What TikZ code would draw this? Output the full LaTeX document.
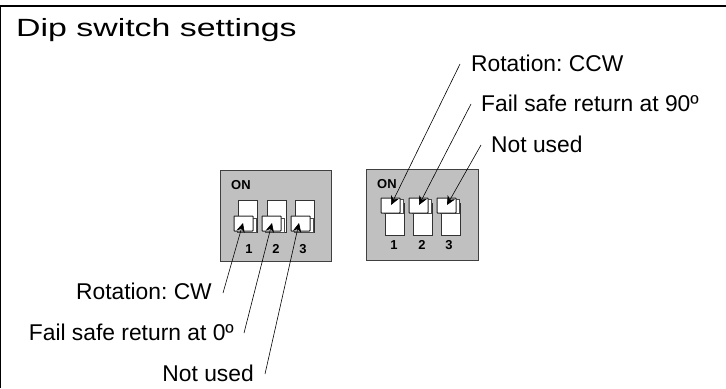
\documentclass[tikz,border=0pt]{standalone}
\usepackage{fontspec}
\setmainfont{Liberation Sans}
\newfontfamily\headfont[FakeStretch=1.36]{Liberation Sans}
\usetikzlibrary{positioning}
\usetikzlibrary{arrows.meta}
\definecolor{panelgray}{RGB}{192,192,192}
\tikzset{
    panel/.style={draw=black!75, line width=0.9pt, fill=panelgray},
    slot/.style={draw=black!80, line width=0.8pt, fill=white},
    lever/.style={draw=black!85, line width=1pt, fill=white, rounded corners=0.6pt},
    leveredge/.style={draw=black!70, line width=1pt, fill=white},
    leader/.style={line width=0.6pt, -{Stealth[length=9bp,width=8.5bp]}},
    callout/.style={font=\fontsize{22.9}{25}\selectfont\frenchspacing, inner sep=0pt},
    onlabel/.style={font=\fontsize{13}{15}\selectfont\bfseries, inner sep=0pt},
    numlabel/.style={font=\fontsize{13}{15}\selectfont\bfseries, inner sep=0pt}
}
\begin{document}
\begin{tikzpicture}[x=1bp,y=-1bp]
        \useasboundingbox (0,0) rectangle (726,388);
        
        % Frame
        \draw [line width=1.5pt] (0.7,388) -- (0.7,6) -- (726,6);
        \node [anchor=base west, inner sep=0pt, font=\fontsize{25}{28}\headfont] (title) at (16,36) {Dip switch settings};
        
        % Left panel
        \draw [panel] (220,170.5) rectangle (331,261.5);
        \node [onlabel, anchor=base west] (onleft) at (231,189) {ON};
        \foreach \x/\l/\m/\n in {238/234/249/1,267/262/276/2,295/291/303/3} {
            \draw [slot] (\x,200) rectangle ++(19,32);
            \draw [leveredge] (\l+3,218) rectangle ++(19,14);
            \draw [lever] (\l,216) rectangle ++(19,15);
            \node [numlabel] (numleft\n) at (\m,249) {\n};
        }
        
        % Right panel
        \draw [panel] (366,169.5) rectangle (478,260.5);
        \node [onlabel, anchor=base west] (onright) at (377,188) {ON};
        \foreach \x/\l/\m/\n in {385/381/394/1,413/409/422/2,441/437/449/3} {
            \draw [slot] (\x,203) rectangle ++(19,32);
            \draw [leveredge] (\l+3,199) rectangle ++(19,14);
            \draw [lever] (\l,198) rectangle ++(19,15);
            \node [numlabel] (numright\n) at (\m,245) {\n};
        }
        
        % Left callouts
        \node [callout, anchor=base east] (cw) at (212,299) {Rotation: CW};
        \node [callout, anchor=base east] (zero) at (234,340) {Fail safe return at 0º};
        \node [callout, anchor=base east] (unusedleft) at (254,381) {Not used};
        \coordinate (cwend) at (223,293);
        \coordinate (zeroend) at (244,333);
        \coordinate (unusedleftend) at (265,374);
        \coordinate (cwtip) at (243,223);
        \coordinate (zerotip) at (272,223);
        \coordinate (unusedlefttip) at (299,223);
        \draw [leader] (cwend) -- (cwtip);
        \draw [leader] (zeroend) -- (zerotip);
        \draw [leader] (unusedleftend) -- (unusedlefttip);
        
        % Right callouts
        \node [callout, anchor=base west] (ccw) at (471,71) {Rotation: CCW};
        \node [callout, anchor=base west] (ninety) at (481,111) {Fail safe return at 90º};
        \node [callout, anchor=base west] (unusedright) at (491,152) {Not used};
        \coordinate (ccwend) at (460,64);
        \coordinate (ninetyend) at (471,104);
        \coordinate (unusedrightend) at (481,145);
        \coordinate (ccwtip) at (391,205);
        \coordinate (ninetytip) at (419,205);
        \coordinate (unusedrighttip) at (447,205);
        \draw [leader] (ccwend) -- (ccwtip);
        \draw [leader] (ninetyend) -- (ninetytip);
        \draw [leader] (unusedrightend) -- (unusedrighttip);
    \end{tikzpicture}
\end{document}
